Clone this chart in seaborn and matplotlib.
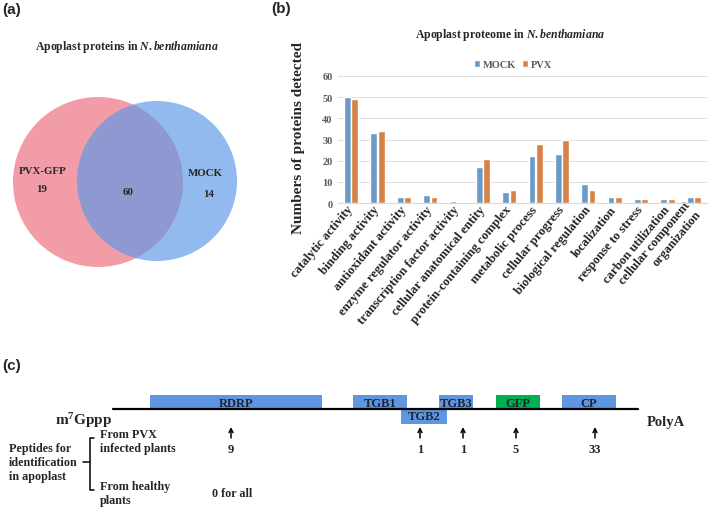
import matplotlib.pyplot as plt
import matplotlib.patches as mpatches
import pandas as pd
import seaborn as sns

sns.set_style("white")
plt.rcParams["font.family"] = ["Liberation Serif", "DejaVu Serif"]
plt.rcParams["font.weight"] = "bold"
plt.rcParams["mathtext.fontset"] = "custom"
plt.rcParams["mathtext.rm"] = "Liberation Serif:bold"
plt.rcParams["mathtext.it"] = "Liberation Serif:italic:bold"

# (a) venn: PVX-GFP only, shared, MOCK only
venn_names = ["PVX-GFP", "MOCK"]
venn_counts = [19, 60, 14]

# (b) GO categories
categories = ["catalytic activity", "binding activity", "antioxidant activity",
              "enzyme regulator activity", "transcription factor activity",
              "cellular anatomical entity", "protein-containing complex",
              "metabolic process", "cellular progress", "biological regulation",
              "localization", "response to stress", "carbon utilization",
              "cellular component\norganization"]
mock = [50, 33, 3, 4, 1, 17, 5, 22, 23, 9, 3, 2, 2, 3]
pvx = [49, 34, 3, 3, 0, 21, 6, 28, 30, 6, 3, 2, 2, 3]

# (c) PVX genome map
genes = ["RDRP", "TGB1", "TGB2", "TGB3", "GFP", "CP"]
gene_start = [150, 353, 401, 439, 496, 562]
gene_end = [322, 407, 447, 473, 540, 616]
gene_side = [1, 1, -1, 1, 1, 1]
gene_colors = ["#5F96E2", "#5F96E2", "#5F96E2", "#5F96E2", "#00B050", "#5F96E2"]
peptide_pos = [231, 420, 463, 516, 595]
peptides_pvx = [9, 1, 1, 5, 33]

fig = plt.figure(figsize=(7.09, 5.10), dpi=100)

# overlay in pixel units for panels a and c
ov = fig.add_axes([0, 0, 1, 1])
ov.set_xlim(0, 709)
ov.set_ylim(510, 0)
ov.axis("off")

sans = "Liberation Sans"
ov.text(2, 10, "(a)", family=sans, fontsize=11, fontweight="bold", va="center")
ov.text(271, 9, "(b)", family=sans, fontsize=11, fontweight="bold", va="center")
ov.text(2, 366, "(c)", family=sans, fontsize=11, fontweight="bold", va="center")

###Venn diagram

ov.add_patch(mpatches.Circle((98, 183), 85, fc="#F29CA8", ec="none"))
ov.add_patch(mpatches.Circle((157, 182), 80, fc="#5F98E6", ec="none", alpha=0.67))
ov.text(127, 47, r"Apoplast proteins in $\mathit{N.benthamiana}$", fontsize=8.5,
        ha="center", va="center")
ov.text(43, 172, venn_names[0], fontsize=7.8, ha="center", va="center")
ov.text(42, 190, str(venn_counts[0]), fontsize=7.8, ha="center", va="center")
ov.text(128, 193, str(venn_counts[1]), fontsize=7.8, ha="center", va="center")
ov.text(205, 174, venn_names[1], fontsize=7.8, ha="center", va="center")
ov.text(209, 195, str(venn_counts[2]), fontsize=7.8, ha="center", va="center")

###Bar plot

ax = fig.add_axes([338 / 709, 1 - 204 / 510, 369 / 709, 127 / 510])
df = pd.DataFrame({
    "category": categories * 2,
    "count": mock + pvx,
    "group": ["MOCK"] * len(mock) + ["PVX"] * len(pvx),
})
sns.barplot(data=df, x="category", y="count", hue="group",
            palette={"MOCK": "#5B9BD5", "PVX": "#ED7D31"},
            width=0.56, gap=0.08, ax=ax)

ax.set_xlim(-0.5, len(categories) - 0.5)
ax.set_ylim(0, 60)
ax.set_yticks(range(0, 61, 10))
ax.grid(axis="y", color="#D9D9D9", lw=0.6)
ax.set_axisbelow(True)
for s in ["top", "right", "left"]:
    ax.spines[s].set_visible(False)
ax.spines["bottom"].set_color("#D9D9D9")
ax.tick_params(axis="y", length=0, pad=4, labelsize=7.5, labelcolor="#595959")
ax.tick_params(axis="x", length=0, pad=3)
ax.set_xticks(range(len(categories)))
ax.set_xticklabels(categories, rotation=50, ha="right", va="center",
                   rotation_mode="anchor", fontsize=9.2, fontweight="bold")
ax.set_xlabel("")
ax.set_ylabel("Numbers of proteins detected", fontsize=11, fontweight="bold")
ax.yaxis.set_label_coords(-0.09, 0.52)
ax.legend(loc="center", bbox_to_anchor=(0.474, 1.087), ncol=2, frameon=False,
          fontsize=7.5, handlelength=0.6, handleheight=0.6, handletextpad=0.25,
          columnspacing=0.6, labelcolor="#595959", borderaxespad=0)
ov.text(510, 35, r"Apoplast proteome in $\mathit{N.benthamiana}$", fontsize=8.5,
        ha="center", va="center")

###Genome map

line_y = 410
ov.plot([113, 638], [line_y, line_y], color="black", lw=1.6, zorder=3)
for name, s, e, side, c in zip(genes, gene_start, gene_end, gene_side, gene_colors):
    h = 14 if side > 0 else 15
    y0 = line_y - h if side > 0 else line_y
    ov.add_patch(mpatches.Rectangle((s, y0), e - s, h, fc=c, ec="none", zorder=2))
    ov.text((s + e) / 2, y0 + h / 2 + (1 if side > 0 else 0), name, fontsize=9,
            ha="center", va="center", color="#1E2433", zorder=4)

ov.text(55, 421, r"m$^{\mathrm{7}}$Gppp", fontsize=11, ha="left", va="center")
ov.text(647, 423, "PolyA", fontsize=10.5, ha="left", va="center")

for x, n in zip(peptide_pos, peptides_pvx):
    ov.annotate("", xy=(x, 428), xytext=(x, 439),
                arrowprops=dict(arrowstyle="->", lw=1.1, color="black",
                                mutation_scale=7, shrinkA=0, shrinkB=0))
    ov.text(x, 450, str(n), fontsize=9, ha="center", va="center")

ov.text(9, 463, "Peptides for\nidentification\nin apoplast", fontsize=8.7,
        ha="left", va="center", linespacing=1.2)
ov.plot([94, 90, 90, 94], [439, 439, 491, 491], color="black", lw=1.1)
ov.plot([83, 90], [463, 463], color="black", lw=1.1)
ov.text(100, 442, "From PVX\ninfected plants", fontsize=8.7, ha="left",
        va="center", linespacing=1.2)
ov.text(100, 494, "From healthy\nplants", fontsize=8.7, ha="left",
        va="center", linespacing=1.2)
ov.text(232, 494, "0 for all", fontsize=8.7, ha="center", va="center")

plt.savefig("out.png", dpi=100)
